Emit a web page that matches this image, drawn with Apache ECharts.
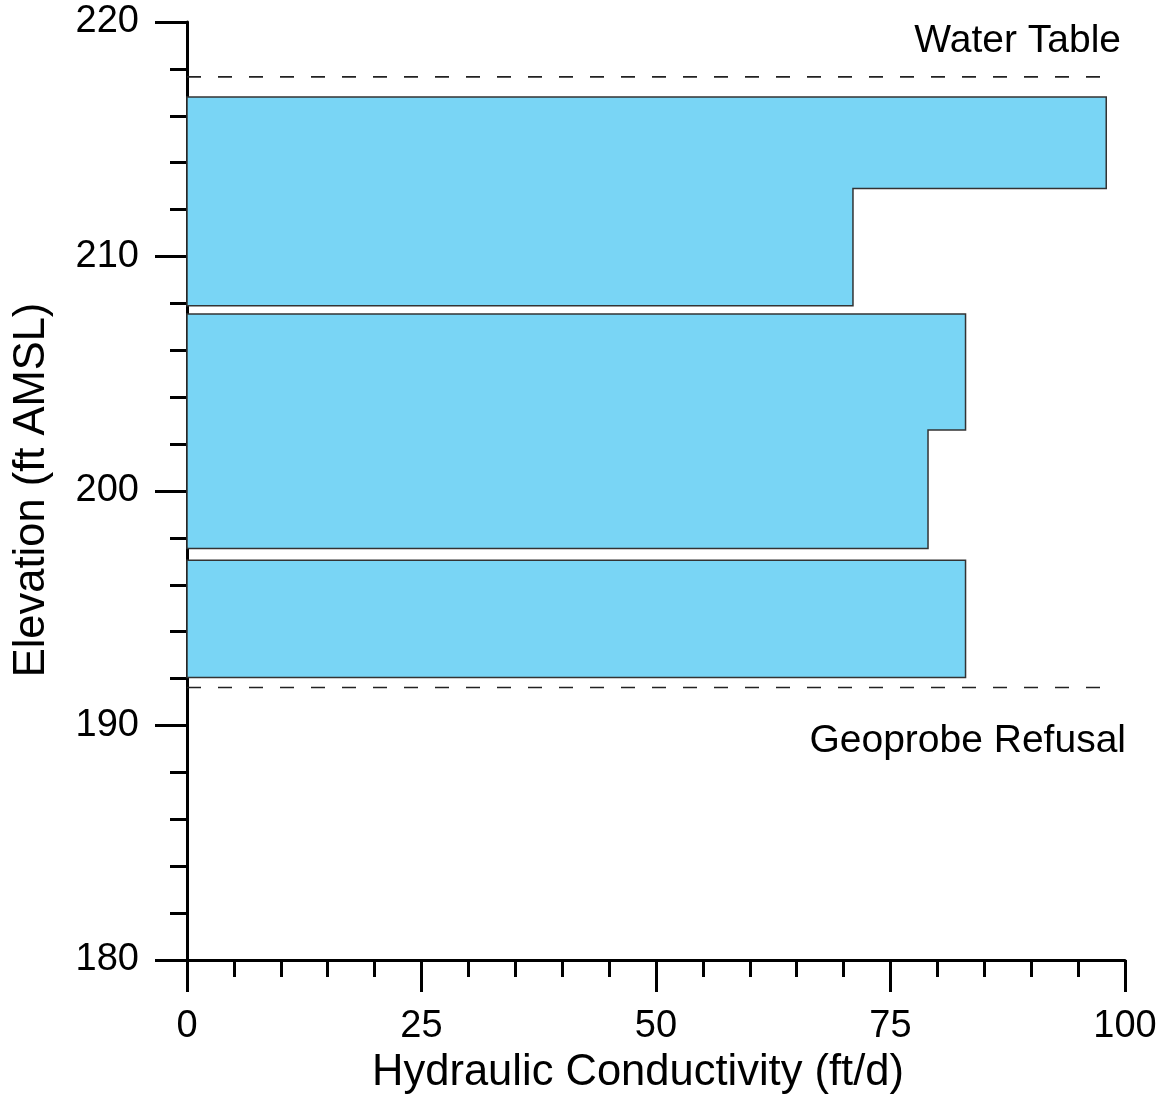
<!DOCTYPE html>
<html>
<head>
<meta charset="utf-8">
<script src="https://cdn.jsdelivr.net/npm/echarts@6/dist/echarts.min.js"></script>
<style>html,body{margin:0;padding:0;background:#fff;}#c{width:1164px;height:1101px;}</style>
</head>
<body>
<div id="c"></div>
<script>
// ---- data ----
const segBlock = [0, 0, 1, 1, 2];
const segTop = [216.8, 212.9, 207.55, 202.6, 197.05];
const segBottom = [212.9, 207.9, 202.6, 197.55, 192.05];
const segK = [98, 71, 83, 79, 83];
const blocks = [0, 1, 2];
const waterTable = 217.66;
const refusal = 191.62;
const refLineK = [0, 98.4];
const xTitle = 'Hydraulic Conductivity (ft/d)';
const yTitle = 'Elevation (ft AMSL)';
const noteTop = 'Water Table';
const noteBottom = 'Geoprobe Refusal';

const FONT = '"Liberation Sans", Arial, sans-serif';
const chart = echarts.init(document.getElementById('c'));

function renderBlock(params, api) {
  const b = api.value(0);
  const idx = [];
  for (let i = 0; i < segBlock.length; i++) if (segBlock[i] === b) idx.push(i);
  const pts = [];
  pts.push(api.coord([0, segTop[idx[0]]]));
  idx.forEach(i => {
    pts.push(api.coord([segK[i], segTop[i]]));
    pts.push(api.coord([segK[i], segBottom[i]]));
  });
  pts.push(api.coord([0, segBottom[idx[idx.length - 1]]]));
  return {
    type: 'polygon',
    shape: { points: pts },
    style: { fill: '#79D5F5', stroke: '#333', lineWidth: 1.5 }
  };
}

const axisCommon = {
  type: 'value',
  axisLine: { show: true, lineStyle: { color: '#000', width: 3 } },
  axisTick: { show: true, length: 32, lineStyle: { color: '#000', width: 3 } },
  minorTick: { show: true, splitNumber: 5, length: 17, lineStyle: { color: '#000', width: 3 } },
  splitLine: { show: false },
  minorSplitLine: { show: false },
  axisLabel: { color: '#000', fontSize: 38, fontFamily: FONT, margin: 48 }
};

chart.setOption({
  animation: false,
  backgroundColor: '#fff',
  grid: { left: 187, right: 39, top: 22, bottom: 141, containLabel: false },
  xAxis: Object.assign({}, axisCommon, { min: 0, max: 100, interval: 25 }),
  yAxis: Object.assign({}, axisCommon, { min: 180, max: 220, interval: 10 }),
  series: [
    {
      type: 'custom',
      renderItem: renderBlock,
      data: blocks.map(b => [b]),
      z: 2
    },
    {
      type: 'line',
      data: refLineK.map(k => [k, waterTable]),
      symbol: 'none',
      lineStyle: { color: '#222', width: 1.6, type: [14, 17] },
      z: 3
    },
    {
      type: 'line',
      data: refLineK.map(k => [k, refusal]),
      symbol: 'none',
      lineStyle: { color: '#222', width: 1.6, type: [14, 17] },
      z: 3
    }
  ],
  graphic: [
    { type: 'text', x: 1121, y: 41, style: { text: noteTop, fontSize: 39, fontFamily: FONT, fill: '#000', align: 'right', verticalAlign: 'middle' } },
    { type: 'text', x: 1126, y: 741, style: { text: noteBottom, fontSize: 39, fontFamily: FONT, fill: '#000', align: 'right', verticalAlign: 'middle' } },
    { type: 'text', x: 638, y: 1073, style: { text: xTitle, fontSize: 43.5, fontFamily: FONT, fill: '#000', align: 'center', verticalAlign: 'middle' } },
    { type: 'text', x: 32, y: 490, rotation: Math.PI / 2, style: { text: yTitle, fontSize: 43.5, fontFamily: FONT, fill: '#000', align: 'center', verticalAlign: 'middle' } }
  ]
});
</script>
</body>
</html>
